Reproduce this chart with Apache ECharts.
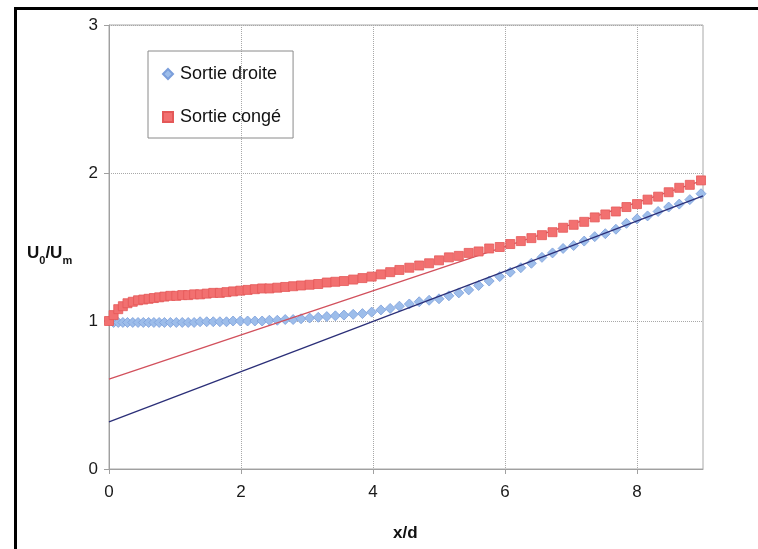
<!DOCTYPE html>
<html>
<head>
<meta charset="utf-8">
<script src="https://cdn.jsdelivr.net/npm/echarts@6/dist/echarts.min.js"></script>
<style>
html,body{margin:0;padding:0;background:#fff;}
#c{width:758px;height:549px;}
</style>
</head>
<body>
<div id="c"></div>
<script>
// x/d positions of the measurement points (shared by both series)
var xValues = [0.00,0.07,0.14,0.21,0.28,0.36,0.44,0.52,0.60,0.68,0.76,0.84,0.93,1.02,1.11,1.20,1.29,1.38,1.48,1.58,
  1.68,1.78,1.88,1.99,2.10,2.21,2.32,2.43,2.55,2.67,2.79,2.91,3.04,3.17,3.30,3.43,3.56,3.70,3.84,3.98,
  4.12,4.26,4.40,4.55,4.70,4.85,5.00,5.15,5.30,5.45,5.60,5.76,5.92,6.08,6.24,6.40,6.56,6.72,6.88,7.04,
  7.20,7.36,7.52,7.68,7.84,8.00,8.16,8.32,8.48,8.64,8.80,8.97];
// Sortie droite (blue diamonds)
var droiteValues = [1.00,0.99,0.99,0.99,0.99,0.99,0.99,0.99,0.99,0.99,0.99,0.99,0.99,0.99,0.99,0.99,0.99,0.995,0.995,0.995,
  0.995,0.995,1.00,1.00,1.00,1.00,1.00,1.005,1.005,1.01,1.01,1.015,1.02,1.025,1.03,1.035,1.04,1.045,1.05,1.06,
  1.075,1.085,1.10,1.115,1.13,1.14,1.15,1.17,1.19,1.21,1.24,1.27,1.30,1.33,1.36,1.39,1.43,1.46,1.49,1.51,
  1.54,1.57,1.59,1.62,1.66,1.69,1.71,1.74,1.77,1.79,1.82,1.86];
// Sortie congé (red squares)
var congeValues = [1.00,1.04,1.08,1.10,1.12,1.13,1.14,1.145,1.15,1.155,1.16,1.165,1.17,1.17,1.175,1.175,1.18,1.18,1.185,1.19,
  1.19,1.195,1.20,1.205,1.21,1.215,1.22,1.22,1.225,1.23,1.235,1.24,1.245,1.25,1.26,1.265,1.27,1.28,1.29,1.30,
  1.315,1.33,1.345,1.36,1.375,1.39,1.41,1.43,1.44,1.46,1.47,1.49,1.50,1.52,1.54,1.56,1.58,1.60,1.63,1.65,
  1.67,1.70,1.72,1.74,1.77,1.79,1.82,1.84,1.87,1.90,1.92,1.95];
// linear trend lines
var trendX = [0, 9];
var droiteTrend = [0.318, 1.845];
var congeTrend = [0.608, 1.95];
var seriesNames = ['Sortie droite', 'Sortie congé'];
var xTicks = [0, 2, 4, 6, 8];
var yTicks = [0, 1, 2, 3];

function pairs(xs, ys){ return xs.map(function(x,i){ return [x, ys[i]]; }); }

var chart = echarts.init(document.getElementById('c'), null, {renderer:'canvas'});
var font = 'Liberation Sans, Arial, sans-serif';
chart.setOption({
  backgroundColor:'#ffffff',
  animation:false,
  textStyle:{fontFamily:font},
  grid:{left:109, right:55, top:25, bottom:80, show:true, borderColor:'#a8a8a8', borderWidth:1, backgroundColor:'transparent'},
  legend:{
    orient:'vertical', left:148, top:51, padding:[14,12,12,14], itemGap:25,
    itemWidth:10, itemHeight:10, borderColor:'#8a8a8a', borderWidth:1,
    textStyle:{fontSize:18, color:'#111', fontFamily:font, padding:[0,0,0,2]},
    data:seriesNames
  },
  xAxis:{
    type:'value', min:0, max:9, interval:2,
    axisLine:{show:true, lineStyle:{color:'#a0a0a0'}},
    axisTick:{show:true, length:5, lineStyle:{color:'#a0a0a0'}, customValues:xTicks},
    axisLabel:{fontSize:17, color:'#1a1a1a', margin:15, customValues:xTicks, fontFamily:font},
    splitLine:{show:true, lineStyle:{color:'#a8a8a8', type:[1,1]}}
  },
  yAxis:{
    type:'value', min:0, max:3, interval:1,
    axisLine:{show:true, lineStyle:{color:'#a0a0a0'}},
    axisTick:{show:true, length:5, lineStyle:{color:'#a0a0a0'}},
    axisLabel:{fontSize:17, color:'#1a1a1a', margin:11, fontFamily:font},
    splitLine:{show:true, lineStyle:{color:'#a8a8a8', type:[1,1]}}
  },
  graphic:[
    {type:'rect', left:13, top:6, z:100, silent:true,
     shape:{x:0, y:0, width:800, height:600},
     style:{fill:'none', stroke:'#000', lineWidth:3}},
    {type:'text', left:27, top:245, z:100,
     style:{text:'{b|U}{s|0}{b|/U}{s|m}', fill:'#111',
       rich:{
         b:{fontSize:17, fontWeight:'bold', fontFamily:font, fill:'#111', verticalAlign:'bottom', padding:[0,0,4,0]},
         s:{fontSize:11, fontWeight:'bold', fontFamily:font, fill:'#111', verticalAlign:'bottom'}
       }}},
    {type:'text', left:393, top:525, z:100,
     style:{text:'x/d', fill:'#111', fontSize:17, fontWeight:'bold', fontFamily:font}}
  ],
  series:[
    {name:seriesNames[0], type:'scatter', symbol:'diamond', symbolSize:10, z:2,
     itemStyle:{color:'#9dbdea', borderColor:'#7b9edb', borderWidth:0.8, opacity:1},
     data:pairs(xValues, droiteValues)},
    {name:'trendConge', type:'line', showSymbol:false, z:3,
     lineStyle:{color:'#d2505c', width:1.3},
     data:pairs(trendX, congeTrend)},
    {name:seriesNames[1], type:'scatter', symbol:'rect', symbolSize:9, z:4,
     itemStyle:{color:'#f27070', borderColor:'#e45858', borderWidth:0.8, opacity:1},
     data:pairs(xValues, congeValues)},
    {name:'trendDroite', type:'line', showSymbol:false, z:5,
     lineStyle:{color:'#2b2f78', width:1.3},
     data:pairs(trendX, droiteTrend)}
  ]
});
</script>
</body>
</html>
